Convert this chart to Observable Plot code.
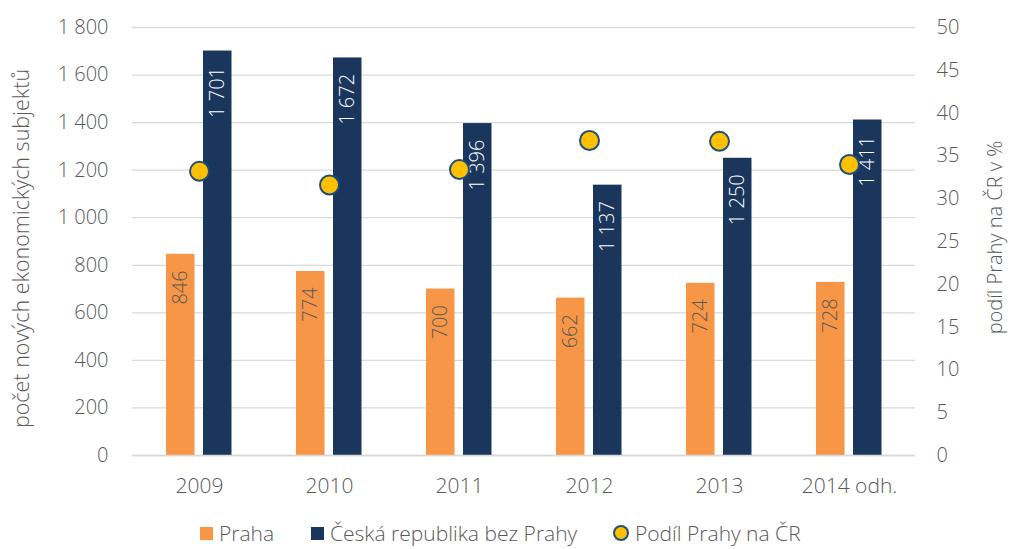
<!DOCTYPE html>
<html>
<head>
<meta charset="utf-8">
<script src="https://cdn.jsdelivr.net/npm/d3@7"></script>
<script src="https://cdn.jsdelivr.net/npm/@observablehq/plot@0.6"></script>
<style>
  body { margin: 0; background: #fff; font-family: "Open Sans", Lato, sans-serif; font-weight: 300; }
  #wrap { position: relative; width: 1010px; height: 549px; }
  #legend { position: absolute; left: 0; top: 519px; width: 1010px; height: 28px; font-size: 21px; line-height: 28px; color: #595959; }
  .item { position: absolute; top: 0; height: 28px; display: flex; align-items: center; gap: 6px; white-space: nowrap; }
  .sq { width: 13px; height: 13px; display: inline-block; }
  .dot { width: 12px; height: 12px; border-radius: 50%; background: #FFC000; border: 2px solid #1F4E79; display: inline-block; }
</style>
</head>
<body>
<div id="wrap">
<div id="chart"></div>
<div id="legend">
  <span class="item" style="left:200px"><span class="sq" style="background:#F79646"></span>Praha</span>
  <span class="item" style="left:311px"><span class="sq" style="background:#1B365D"></span>Česká republika bez Prahy</span>
  <span class="item" style="left:613px"><span class="dot"></span>Podíl Prahy na ČR</span>
</div>
</div>
<script>
const years = ["2009", "2010", "2011", "2012", "2013", "2014 odh."];
const praha = [846, 774, 700, 662, 724, 728];
const crBezPrahy = [1701, 1672, 1396, 1137, 1250, 1411];
const podil = [33.2, 31.6, 33.4, 36.8, 36.7, 34.0];
const leftTicks = [0, 200, 400, 600, 800, 1000, 1200, 1400, 1600, 1800];
const rightTicks = [0, 5, 10, 15, 20, 25, 30, 35, 40, 45, 50];
const leftTitle = "počet nových ekonomických subjektů";
const rightTitle = "podíl Prahy na ČR v %";

const ratio = 1800 / 50;
const fmt = d3.formatLocale({decimal: ",", thousands: "\u00a0", grouping: [3], currency: ["", ""]}).format(",d");

const data = years.map((y, i) => ({year: y, praha: praha[i], cr: crBezPrahy[i], podil: podil[i]}));
const grey = "#595959";

const chart = Plot.plot({
  width: 1010,
  height: 500,
  marginTop: 27,
  marginBottom: 45,
  marginLeft: 132,
  marginRight: 95,
  style: {fontFamily: "'Open Sans', Lato, sans-serif", fontWeight: 300, fontSize: "20px", color: grey, background: "#fff"},
  x: {type: "band", domain: years, padding: 0, label: null},
  y: {domain: [0, 1800], label: null},
  marks: [
    Plot.gridY(leftTicks, {stroke: "#d9d9d9", strokeOpacity: 1, strokeWidth: 1.3}),
    Plot.axisY(leftTicks, {anchor: "left", tickSize: 0, tickPadding: 24, tickFormat: fmt, label: null, fill: grey, fontSize: 20}),
    Plot.axisY(rightTicks.map(v => v * ratio), {anchor: "right", tickSize: 0, tickPadding: 21, tickFormat: d => fmt(Math.round(d / ratio)), label: null, fill: grey, fontSize: 20}),
    Plot.axisX({tickSize: 0, tickPadding: 23, label: null, fill: grey, fontSize: 21}),
    Plot.barY(data, {x: "year", y: "praha", fill: "#F79646", insetLeft: 32, insetRight: 69.5}),
    Plot.barY(data, {x: "year", y: "cr", fill: "#1B365D", insetLeft: 69, insetRight: 32.5}),
    Plot.ruleY([0], {stroke: "#d9d9d9", strokeWidth: 1.5}),
    Plot.text(data, {x: "year", y: "praha", text: d => fmt(d.praha), rotate: -90, textAnchor: "end", lineAnchor: "middle", dx: -19, dy: 16, fill: grey, fontSize: 20}),
    Plot.text(data, {x: "year", y: "cr", text: d => fmt(d.cr), rotate: -90, textAnchor: "end", lineAnchor: "middle", dx: 18, dy: 16, fill: "#fff", fontSize: 20}),
    Plot.dot(data, {x: "year", y: d => d.podil * ratio, r: 9.5, fill: "#FFC000", stroke: "#1F4E79", strokeWidth: 2}),
    Plot.text([leftTitle], {frameAnchor: "left", textAnchor: "middle", lineAnchor: "middle", rotate: -90, dx: -110, dy: 7, fill: grey, fontSize: 21.5}),
    Plot.text([rightTitle], {frameAnchor: "right", textAnchor: "middle", lineAnchor: "middle", rotate: -90, dx: 80, dy: -4, fill: grey, fontSize: 20})
  ]
});
document.getElementById("chart").appendChild(chart);
</script>
</body>
</html>
